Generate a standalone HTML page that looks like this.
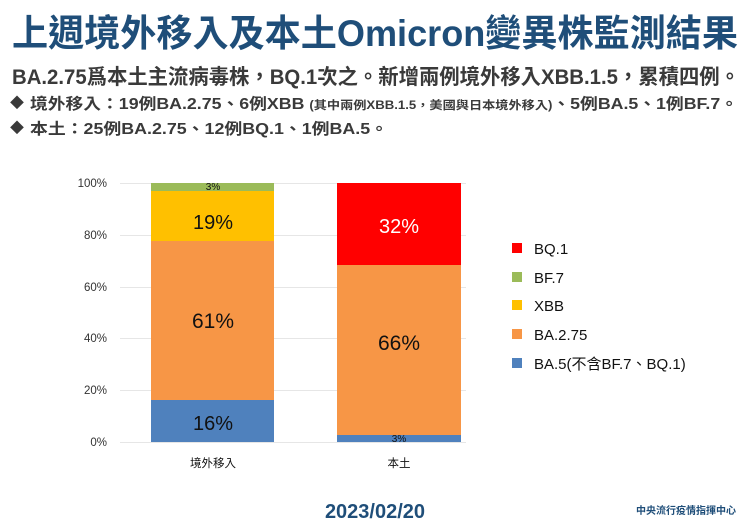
<!DOCTYPE html>
<html><head><meta charset="utf-8"><style>
body{margin:0;width:750px;height:531px;background:#fff;overflow:hidden;position:relative;font-family:"Liberation Sans","Noto Sans CJK TC",sans-serif}
.a{position:absolute;white-space:nowrap}
</style></head><body>
<svg class="a" style="left:0;top:0" width="750" height="531" font-family="Liberation Sans, Noto Sans CJK TC, sans-serif">
<text x="12" y="46" font-size="37" font-weight="bold" fill="#1f4e79" textLength="726" lengthAdjust="spacingAndGlyphs">上週境外移入及本土Omicron變異株監測結果</text>
<text x="12" y="84" font-size="21" font-weight="bold" fill="#3a3a3a" textLength="728" lengthAdjust="spacingAndGlyphs">BA.2.75爲本土主流病毒株，BQ.1次之。新增兩例境外移入XBB.1.5，累積四例。</text>
<text x="10" y="108" font-size="14" fill="#3a3a3a">◆</text>
<text x="30" y="109" font-size="15.5" font-weight="bold" fill="#3a3a3a" textLength="708" lengthAdjust="spacingAndGlyphs">境外移入：19例BA.2.75、6例XBB <tspan font-size="11.5">(其中兩例XBB.1.5，美國與日本境外移入)</tspan>、5例BA.5、1例BF.7。</text>
<text x="10" y="133" font-size="14" fill="#3a3a3a">◆</text>
<text x="30" y="134" font-size="15.5" font-weight="bold" fill="#3a3a3a" textLength="358" lengthAdjust="spacingAndGlyphs">本土：25例BA.2.75、12例BQ.1、1例BA.5。</text>
<g stroke="#e6e6e6" stroke-width="1">
<line x1="120" x2="466" y1="183.5" y2="183.5"/><line x1="120" x2="466" y1="235.5" y2="235.5"/><line x1="120" x2="466" y1="287.5" y2="287.5"/><line x1="120" x2="466" y1="338.5" y2="338.5"/><line x1="120" x2="466" y1="390.5" y2="390.5"/><line x1="120" x2="466" y1="442.5" y2="442.5"/></g>
<g font-size="11.5" fill="#333" text-anchor="end">
<text x="107" y="187">100%</text><text x="107" y="239">80%</text><text x="107" y="291">60%</text><text x="107" y="342">40%</text><text x="107" y="394">20%</text><text x="107" y="446">0%</text></g>
<rect x="151" y="400" width="123" height="42" fill="#4f81bd"/>
<rect x="151" y="241" width="123" height="159" fill="#f79646"/>
<rect x="151" y="191" width="123" height="50" fill="#ffc000"/>
<rect x="151" y="183" width="123" height="8" fill="#9bbb59"/>
<rect x="337" y="435" width="124" height="7" fill="#4f81bd"/>
<rect x="337" y="265" width="124" height="170" fill="#f79646"/>
<rect x="337" y="183" width="124" height="82" fill="#ff0000"/>
<g text-anchor="middle" fill="#111">
<text x="213" y="190" font-size="10">3%</text>
<text x="213" y="229" font-size="20">19%</text>
<text x="213" y="328" font-size="21">61%</text>
<text x="213" y="430" font-size="20">16%</text>
<text x="399" y="442" font-size="10">3%</text>
<text x="399" y="350" font-size="21">66%</text>
<text x="399" y="233" font-size="20" fill="#fff">32%</text>
<text x="213" y="467" font-size="11.5">境外移入</text>
<text x="399" y="467" font-size="11.5">本土</text></g>
<g font-size="15" fill="#111">
<rect x="512" y="243" width="10" height="10" fill="#ff0000"/><text x="534" y="254">BQ.1</text>
<rect x="512" y="272" width="10" height="10" fill="#9bbb59"/><text x="534" y="283">BF.7</text>
<rect x="512" y="300" width="10" height="10" fill="#ffc000"/><text x="534" y="311">XBB</text>
<rect x="512" y="329" width="10" height="10" fill="#f79646"/><text x="534" y="340">BA.2.75</text>
<rect x="512" y="358" width="10" height="10" fill="#4f81bd"/><text x="534" y="369">BA.5(不含BF.7、BQ.1)</text></g>
<text x="375" y="518" text-anchor="middle" font-size="20" font-weight="bold" fill="#1f4e79">2023/02/20</text>
<text x="736" y="514" text-anchor="end" font-size="10" font-weight="bold" fill="#1f4e79">中央流行疫情指揮中心</text>
</svg>
</body></html>
